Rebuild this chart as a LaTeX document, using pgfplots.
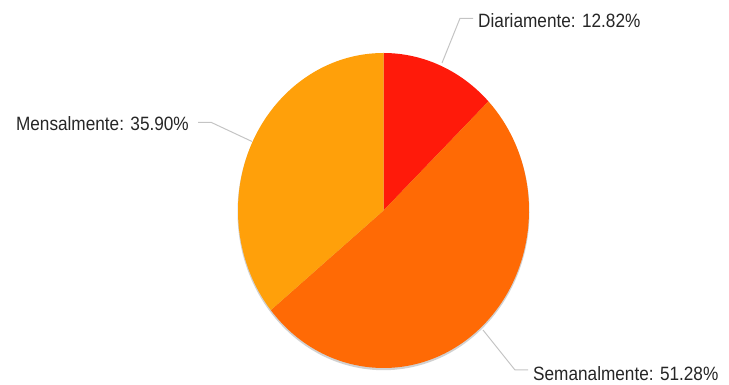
\documentclass[border=0pt]{standalone}
\usepackage{pgfplots}
\usepackage{pgfplotstable}
\usepackage{graphicx}
\usepackage{fontspec}
\setmainfont{Liberation Sans}
\pgfplotsset{compat=1.18}
\definecolor{cD}{HTML}{FF1A0A}
\definecolor{cS}{HTML}{FF6A05}
\definecolor{cM}{HTML}{FFA00A}
\definecolor{lead}{HTML}{C4C4C4}
\definecolor{txt}{HTML}{262626}
\pgfplotstableread[col sep=comma]{
label,value
Diariamente,12.82
Semanalmente,51.28
Mensalmente,35.90
}\piedata
\begin{document}
\begin{tikzpicture}
\begin{axis}[
  width=729pt, height=385pt, scale only axis,
  xmin=0, xmax=729, ymin=0, ymax=385,
  hide axis, clip=false,
]
% shadow
\fill[black, opacity=0.18] (axis cs:383.5,172.8) ellipse [x radius=146pt, y radius=158pt];
\pgfplotsextra{
  \gdef\startang{90}
  \foreach \i/\col in {0/cD,1/cS,2/cM} {
    \pgfplotstablegetelem{\i}{value}\of\piedata
    \pgfmathsetmacro\endang{\startang - 3.6*\pgfplotsretval}
    \fill[\col] (axis cs:383.5,174.5) -- ++(\endang:145.5pt and 157.5pt)
      arc[start angle=\endang, end angle=\startang, x radius=145.5pt, y radius=157.5pt] -- cycle;
    \global\let\startang\endang
  }
}
% leader lines
\draw[lead, line width=1pt] (axis cs:442,322) -- (axis cs:460,366.7) -- (axis cs:473,366.7);
\draw[lead, line width=1pt] (axis cs:198,262.7) -- (axis cs:211,262.7) -- (axis cs:252,243.5);
\draw[lead, line width=1pt] (axis cs:483,55) -- (axis cs:515,15) -- (axis cs:528,15);
% labels
\node[anchor=west, inner sep=0pt, text=txt] at (axis cs:478,364.5)
  {\scalebox{1}[1.12]{\fontsize{17.2}{20}\selectfont Diariamente: 12.82\%}};
\node[anchor=east, inner sep=0pt, text=txt] at (axis cs:189,261)
  {\scalebox{1}[1.12]{\fontsize{17.2}{20}\selectfont Mensalmente: 35.90\%}};
\node[anchor=west, inner sep=0pt, text=txt] at (axis cs:533,11)
  {\scalebox{1}[1.12]{\fontsize{17.2}{20}\selectfont Semanalmente: 51.28\%}};
\end{axis}
\pgfresetboundingbox
\useasboundingbox (current axis.south west) rectangle (current axis.north east);
\end{tikzpicture}
\end{document}
